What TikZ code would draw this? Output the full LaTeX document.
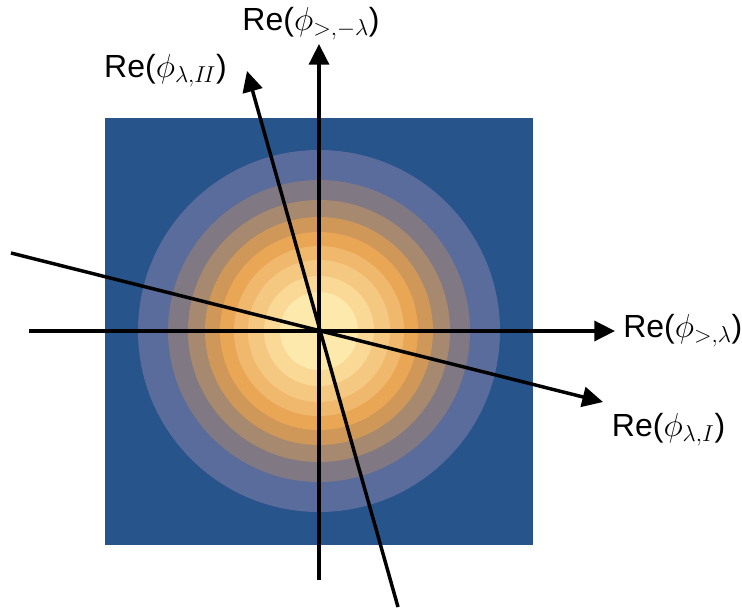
\documentclass[tikz,border=0pt]{standalone}
\usepackage{fontspec}
\setmainfont{Liberation Sans}
\usetikzlibrary{arrows.meta,positioning}
\definecolor{deepblue}{HTML}{27548A}
\definecolor{ringa}{HTML}{5A6C9B}
\definecolor{ringb}{HTML}{807882}
\definecolor{ringc}{HTML}{A6896E}
\definecolor{ringd}{HTML}{D09858}
\definecolor{ringe}{HTML}{E9A655}
\definecolor{ringf}{HTML}{F0B86C}
\definecolor{ringg}{HTML}{F5C882}
\definecolor{ringh}{HTML}{FAD896}
\definecolor{ringi}{HTML}{FEE9AC}

\begin{document}
\begin{tikzpicture}[
    x=0.75pt, y=0.75pt,
    axis/.style={line width=2.6pt, -{Triangle[length=15.5pt,width=15pt]}},
    axlabel/.style={inner sep=0pt, font=\fontsize{24}{28}\selectfont},
  ]
  \useasboundingbox (-319,-281) rectangle (423,331);
  % square and gaussian contours
  \fill[deepblue] (-213.5,-213.5) rectangle (213.5,213.5);
  \foreach \r/\c in {181/ringa, 151/ringb, 131/ringc, 114/ringd, 99/ringe,
                     85/ringf, 71/ringg, 55/ringh, 39/ringi}
    \fill[\c] (0,0) circle (\r);

  % axis ends
  \coordinate (xs) at (-290,0);  \coordinate (xe) at (296,0);
  \coordinate (ys) at (0,-249);  \coordinate (ye) at (0,287);
  \coordinate (is) at (-308,78); \coordinate (ie) at (284,-71);
  \coordinate (js) at (79,-276); \coordinate (je) at (-72,260);

  \draw[axis] (xs) -- (xe);
  \draw[axis] (ys) -- (ye);
  \draw[axis] (is) -- (ie);
  \draw[axis] (js) -- (je);

  % labels
  \node[axlabel, right=6pt of xe] (xlab) {Re($\phi_{>,\lambda}$)};
  \node[axlabel, above=3pt of ye, xshift=-6pt] (ylab) {Re($\phi_{>,-\lambda}$)};
  \node[axlabel, below right=8pt and 6.5pt of ie] (ilab) {Re($\phi_{\lambda,I}$)};
  \node[axlabel, left=15pt of je] (jlab) {Re($\phi_{\lambda,I\mkern-2mu I}$)};
\end{tikzpicture}
\end{document}
